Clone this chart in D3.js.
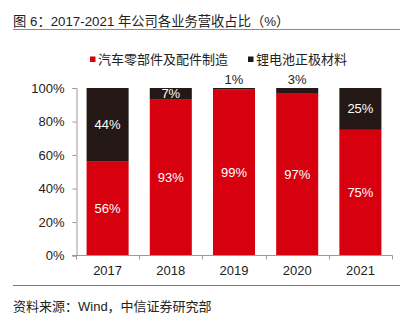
<!DOCTYPE html>
<html><head><meta charset="utf-8">
<script src="https://cdn.jsdelivr.net/npm/d3@7"></script>
<style>
body{margin:0;background:#fff;}
text{font-family:"Liberation Sans","Noto Sans CJK SC",sans-serif;}
</style></head>
<body><svg id="c" width="400" height="321"></svg>
<script>
const categories = ["2017","2018","2019","2020","2021"];
const autoParts = [56,93,99,97,75];
const battery = [44,7,1,3,25];
const seriesNames = ["汽车零部件及配件制造","锂电池正极材料"];
const yTicks = [0,20,40,60,80,100];
const title = "图 6：2017-2021 年公司各业务营收占比（%）";
const source = "资料来源：Wind，中信证券研究部";
const colors = ["#D7000F","#231815"];

const svg = d3.select("#c");
const x = d3.scaleBand().domain(categories).range([76,392]).paddingInner(0.335).paddingOuter(0.1675);
const y = d3.scaleLinear().domain([0,100]).range([255.5,88]);

// title
svg.append("text").attr("x",13).attr("y",26).attr("font-size",13.3).attr("fill","#222").text(title);
svg.append("line").attr("x1",13).attr("x2",400).attr("y1",29.5).attr("y2",29.5).attr("stroke","#E06666").attr("stroke-width",1);
svg.append("line").attr("x1",13).attr("x2",400).attr("y1",285.5).attr("y2",285.5).attr("stroke","#D9534F").attr("stroke-width",1);
svg.append("text").attr("x",13).attr("y",311).attr("font-size",13).attr("fill","#222").text(source);

// legend
const legX = [90,248];
seriesNames.forEach((n,i)=>{
  svg.append("rect").attr("x",legX[i]).attr("y",56.5).attr("width",5.5).attr("height",5.5).attr("fill",colors[i]);
  svg.append("text").attr("x",legX[i]+8).attr("y",64).attr("font-size",13).attr("fill","#222").text(n);
});

// stacked bars
const data = categories.map((c,i)=>({cat:c, a:autoParts[i], b:battery[i]}));
const stack = d3.stack().keys(["a","b"])(data);
stack.forEach((layer,li)=>{
  svg.append("g").selectAll("rect").data(layer).join("rect")
    .attr("x",d=>x(d.data.cat)).attr("width",x.bandwidth())
    .attr("y",d=>y(d[1])).attr("height",d=>y(d[0])-y(d[1]))
    .attr("fill",colors[li]);
  svg.append("g").selectAll("text").data(layer).join("text")
    .attr("x",d=>x(d.data.cat)+x.bandwidth()/2)
    .attr("y",d=>{const v=d[1]-d[0]; return v<5 ? y(d[1])-4 : y((d[0]+d[1])/2)+4.5;})
    .attr("text-anchor","middle").attr("font-size",13)
    .attr("fill",d=>(d[1]-d[0])<5?"#222":"#fff")
    .text(d=>(d[1]-d[0])+"%");
});

// axes
const ya = svg.append("g").attr("transform","translate(76.5,0)")
  .call(d3.axisLeft(y).tickValues(yTicks).tickFormat(d=>d+"%").tickSize(4).tickPadding(8));
ya.select(".domain").attr("stroke","#999");
ya.selectAll(".tick line").attr("stroke","#999");
ya.selectAll("text").attr("font-size",13).attr("fill","#222").attr("font-family","Liberation Sans, sans-serif");

const xa = svg.append("g").attr("transform","translate(0,255.5)");
xa.append("line").attr("x1",72).attr("x2",392.5).attr("stroke","#999");
const bounds = categories.map(c=>x(c)-x.step()*x.paddingInner()/2).concat([392]);
xa.selectAll("line.t").data(bounds).join("line").attr("class","t")
  .attr("x1",d=>Math.round(d)+0.5).attr("x2",d=>Math.round(d)+0.5).attr("y1",0).attr("y2",4).attr("stroke","#999");
xa.selectAll("text").data(categories).join("text")
  .attr("x",d=>x(d)+x.bandwidth()/2).attr("y",19).attr("text-anchor","middle")
  .attr("font-size",13).attr("fill","#222").text(d=>d);
</script></body></html>
